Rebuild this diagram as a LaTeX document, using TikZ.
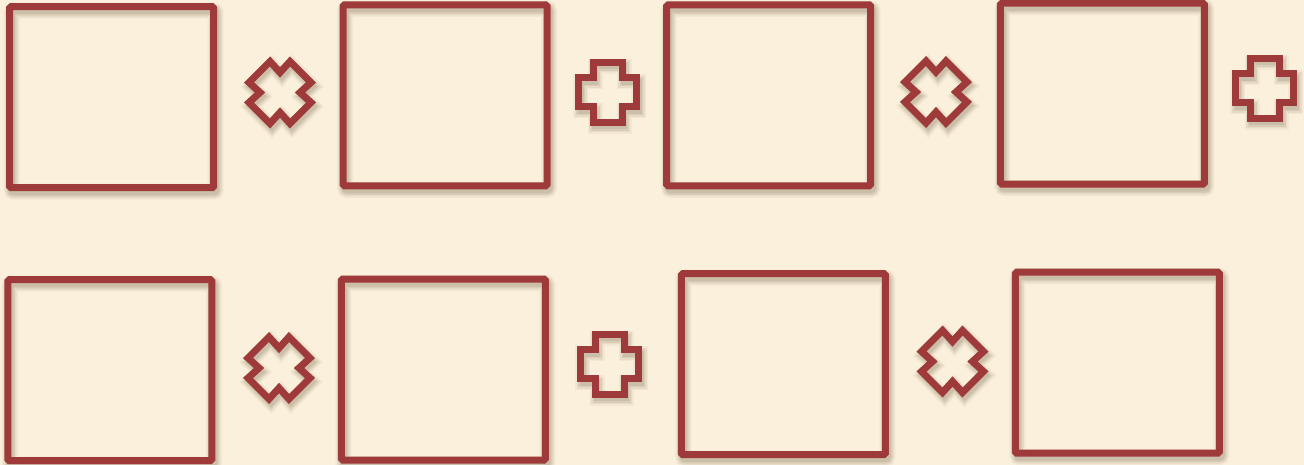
\documentclass[tikz,border=0pt]{standalone}
\usetikzlibrary{backgrounds}
\definecolor{bg}{HTML}{FBF0DB}
\definecolor{frame}{HTML}{9E3A3A}
\definecolor{shade}{HTML}{5A4A30}
\tikzset{
  x=1pt, y=-1pt,
  box/.style={rectangle, draw=frame, line width=7pt, rounded corners=1.5pt,
    outer sep=0pt, inner sep=0pt, minimum width=204pt, minimum height=181pt},
  boxshade/.style={draw=shade, rounded corners=2pt},
  crossline/.style={draw=frame, line width=7pt, line join=miter},
  xcross/.pic={
    \foreach \w/\o in {15/0.05,12/0.07,9/0.09,6/0.1}{
      \draw[draw=shade, line width=\w pt, opacity=\o, shift={(2,4)}]
        (-10,-31) -- (0,-20) -- (10,-31) -- (31,-10) -- (20,0) -- (31,10)
        -- (10,31) -- (0,20) -- (-10,31) -- (-31,10) -- (-20,0) -- (-31,-10) -- cycle;
    }
    \draw[crossline]
      (-10,-31) -- (0,-20) -- (10,-31) -- (31,-10) -- (20,0) -- (31,10)
      -- (10,31) -- (0,20) -- (-10,31) -- (-31,10) -- (-20,0) -- (-31,-10) -- cycle;
  },
  pcross/.pic={
    \foreach \w/\o in {15/0.05,12/0.07,9/0.09,6/0.1}{
      \draw[draw=shade, line width=\w pt, opacity=\o, shift={(2,4)}]
        (-14.5,-30) -- (14.5,-30) -- (14.5,-14.5) -- (29,-14.5) -- (29,14.5) -- (14.5,14.5)
        -- (14.5,30) -- (-14.5,30) -- (-14.5,14.5) -- (-29,14.5) -- (-29,-14.5) -- (-14.5,-14.5) -- cycle;
    }
    \draw[crossline]
      (-14.5,-30) -- (14.5,-30) -- (14.5,-14.5) -- (29,-14.5) -- (29,14.5) -- (14.5,14.5)
      -- (14.5,30) -- (-14.5,30) -- (-14.5,14.5) -- (-29,14.5) -- (-29,-14.5) -- (-14.5,-14.5) -- cycle;
  }
}
\begin{document}
\begin{tikzpicture}
\useasboundingbox (0,0) rectangle (1304,465);
% boxes
\node[box] (b1) at (111.6,97.2) {};
\node[box] (b2) at (445,95.3) {};
\node[box] (b3) at (768.7,95.3) {};
\node[box] (b4) at (1102.4,93.7) {};
\node[box] (b5) at (109.75,370.2) {};
\node[box] (b6) at (443.3,369.5) {};
\node[box] (b7) at (783.3,364.2) {};
\node[box] (b8) at (1117.3,362.7) {};
% crosses
\pic (x1) at (280,92.5) {xcross};
\pic (p1) at (607.5,92.5) {pcross};
\pic (x2) at (936,92) {xcross};
\pic (p2) at (1264.5,88.5) {pcross};
\pic (x3) at (279,368) {xcross};
\pic (p3) at (609.5,364) {pcross};
\pic (x4) at (952.5,361.5) {xcross};
\begin{scope}[on background layer]
  \fill[bg] (0,0) rectangle (1304,465);
  \foreach \b in {b1,b2,b3,b4,b5,b6,b7,b8}{
    \foreach \w/\o in {16/0.05,13/0.07,10/0.09,7/0.1}{
      \draw[boxshade, line width=\w pt, opacity=\o]
        ([shift={(2,4)}]\b.north west) rectangle ([shift={(2,4)}]\b.south east);
    }
  }
\end{scope}
\end{tikzpicture}
\end{document}
